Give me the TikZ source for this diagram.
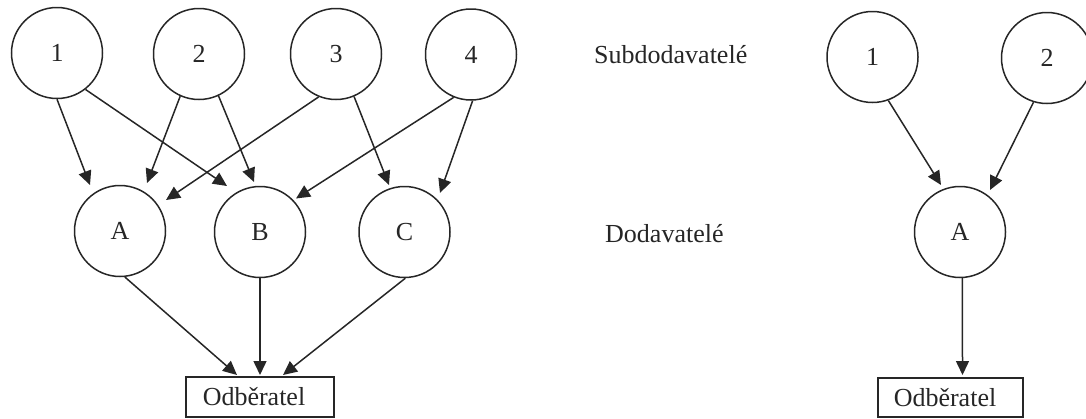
\documentclass[tikz,border=0pt]{standalone}
\usepackage{fontspec}
\setmainfont{Liberation Serif}
\usetikzlibrary{arrows.meta,calc}
\definecolor{ink}{HTML}{262626}
\begin{document}
\begin{tikzpicture}[x=1pt,y=-1pt,
  txt/.style={font=\fontsize{26}{30}\selectfont,text=ink},
  circ/.style={circle,draw=ink,line width=1.5pt,minimum size=91pt,inner sep=0pt,txt},
  box/.style={rectangle,draw=ink,line width=1.5pt,inner sep=0pt,txt},
  arr/.style={draw=ink,line width=1.5pt,-{Triangle[length=14pt,width=13pt]}},
  lbl/.style={txt,inner sep=0pt,anchor=base west}]
\useasboundingbox (0,0) rectangle (1086,418);
% left diagram
\node[circ] (t1) at (57,53) {1};
\node[circ] (t2) at (199,54) {2};
\node[circ] (t3) at (336,54) {3};
\node[circ] (t4) at (471,54.5) {4};
\node[circ] (A) at (120,231) {A};
\node[circ] (B) at (260,232) {B};
\node[circ] (C) at (404.5,232) {C};
\node[box,minimum width=148pt,minimum height=40pt] (O) at (260,397) {Odběratel\hspace*{12pt}};
% labels
\node[lbl] (sub) at (594,63) {Subdodavatelé};
\node[lbl] (dod) at (605,242) {Dodavatelé};
% right diagram
\node[circ] (r1) at (872.5,57) {1};
\node[circ] (r2) at (1047,58) {2};
\node[circ] (rA) at (960,232) {A};
\node[box,minimum width=145pt,minimum height=39pt] (rO) at (950.5,397.5) {Odběratel\hspace*{11pt}};
% arrows left
\draw[arr] (t1.-90) -- ($(A)+(-30,-46)$);
\draw[arr] (t1.-52) -- ($(B)+(-33,-46)$);
\draw[arr] (t2.-114) -- ($(A)+(27,-48)$);
\draw[arr] (t2.-65) -- ($(B)+(-6,-50)$);
\draw[arr] (t3.-112) -- ($(A)+(46,-31)$);
\draw[arr] (t3.-67) -- ($(C)+(-15.5,-47)$);
\draw[arr] (t4.-112) -- ($(B)+(36,-33.5)$);
\draw[arr] (t4.-88) -- ($(C)+(35.5,-39)$);
\draw[arr] (A.-84) -- ($(O)+(-23,-22)$);
\draw[arr] (B.-90) -- ($(O)+(0,-22)$);
\draw[arr] (C.-89) -- ($(O)+(23,-22)$);
% arrows right
\draw[arr] (r1.-70) -- ($(rA)+(-19,-47)$);
\draw[arr] (r2.-107) -- ($(rA)+(30,-42)$);
\draw[arr] (rA.-87) -- ($(rO)+(12,-22.5)$);
\end{tikzpicture}
\end{document}
